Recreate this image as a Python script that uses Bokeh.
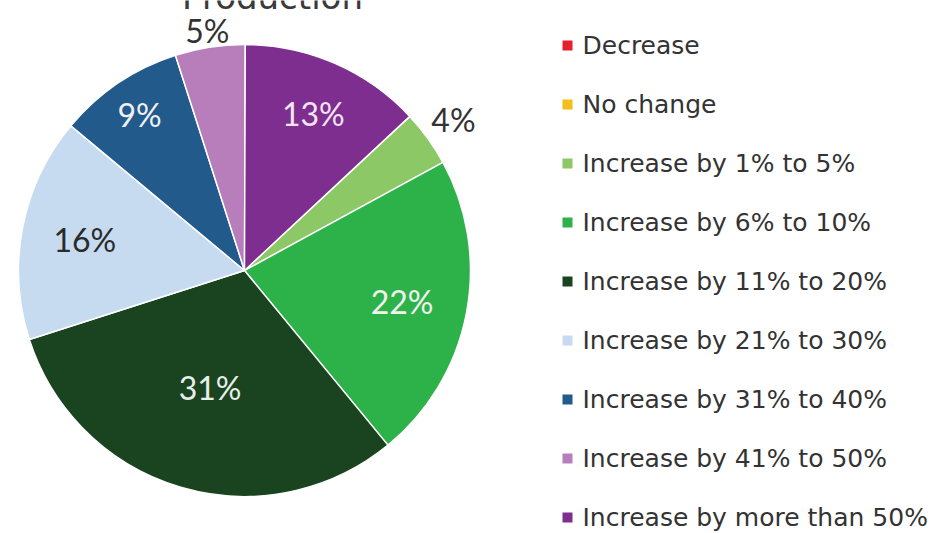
import math
from bokeh.plotting import figure
from bokeh.models import Range1d, ColumnDataSource
from bokeh.core.properties import value
from bokeh.embed import file_html
from bokeh.resources import INLINE

# ---- data ----
title_text = "Production"
categories = [
    "Decrease",
    "No change",
    "Increase by 1% to 5%",
    "Increase by 6% to 10%",
    "Increase by 11% to 20%",
    "Increase by 21% to 30%",
    "Increase by 31% to 40%",
    "Increase by 41% to 50%",
    "Increase by more than 50%",
]
shares = [0, 0, 4, 22, 31, 16, 9, 5, 13]
colors = ["#E3202B", "#F2BE1A", "#8CC865", "#2DB24A", "#1A4320",
          "#C6DBF0", "#215A8B", "#B87DBB", "#7E2E8F"]

# ---- layout / style ----
W, H = 936, 533
FIRST_SLICE_ANGLE = 47.0          # degrees clockwise from 12 o'clock
CX, CY, R = 244, H - 270, 226      # pie centre / radius in screen px
# radial position of each label as fraction of radius, and label colour
label_radius = {2: 1.14, 3: 0.71, 4: 0.54, 5: 0.72, 6: 0.83, 7: 1.075, 8: 0.76}
label_color = {2: "#333333", 3: "#F2F2EE", 4: "#E8EEE8", 5: "#2A2A2A",
               6: "#F0F0F5", 7: "#333333", 8: "#F3E3F3"}
LEG_SQ_X, LEG_TX_X, LEG_Y0, LEG_DY = 567, 582, H - 45, 59

p = figure(width=W, height=H, output_backend="svg", toolbar_location=None,
           x_range=Range1d(0, W), y_range=Range1d(0, H), min_border=0)
p.axis.visible = False
p.grid.visible = False
p.outline_line_color = None
p.background_fill_color = "white"
p.border_fill_color = "white"

total = float(sum(shares))
starts, ends, mids = [], [], []
cum = 0.0
for s in shares:
    a0 = FIRST_SLICE_ANGLE + 360.0 * cum / total
    a1 = FIRST_SLICE_ANGLE + 360.0 * (cum + s) / total
    starts.append(math.radians(90.0 - a0))
    ends.append(math.radians(90.0 - a1))
    mids.append(math.radians(90.0 - (a0 + a1) / 2.0))
    cum += s

idx = [i for i, s in enumerate(shares) if s > 0]
src = ColumnDataSource(dict(
    x=[CX] * len(idx), y=[CY] * len(idx),
    start=[starts[i] for i in idx], end=[ends[i] for i in idx],
    color=[colors[i] for i in idx]))
p.wedge(x="x", y="y", radius=R, radius_units="screen",
        start_angle="start", end_angle="end", direction="clock",
        fill_color="color", line_color="white", line_width=1.5, source=src)

# data labels
lx, ly, lt, lc = [], [], [], []
for i in idx:
    rr = R * label_radius[i]
    lx.append(CX + rr * math.cos(mids[i]))
    ly.append(CY + rr * math.sin(mids[i]))
    lt.append(f"{shares[i]}%")
    lc.append(label_color[i])
p.text(x=lx, y=ly, text=lt, text_color=lc, text_align="center",
       text_baseline="middle", text_font=value("Lato"),
       text_font_size="32px")

# legend
n = len(categories)
ly_leg = [LEG_Y0 - LEG_DY * k for k in range(n)]
p.rect(x=[LEG_SQ_X] * n, y=[v for v in ly_leg], width=10, height=10,
       width_units="screen", height_units="screen",
       fill_color=colors, line_color=None)
p.text(x=[LEG_TX_X] * n, y=ly_leg, text=categories, text_color="#333333",
       text_align="left", text_baseline="middle",
       text_font=value("DejaVu Sans"), text_font_size="25px")

# title (partly cut off at the top, as in the original)
p.text(x=[272], y=[H + 4], text=[title_text], text_color="#3a3a3a",
       text_align="center", text_baseline="alphabetic",
       text_font=value("DejaVu Sans"), text_font_size="34px")

open("out.html", "w").write(file_html(p, INLINE))
